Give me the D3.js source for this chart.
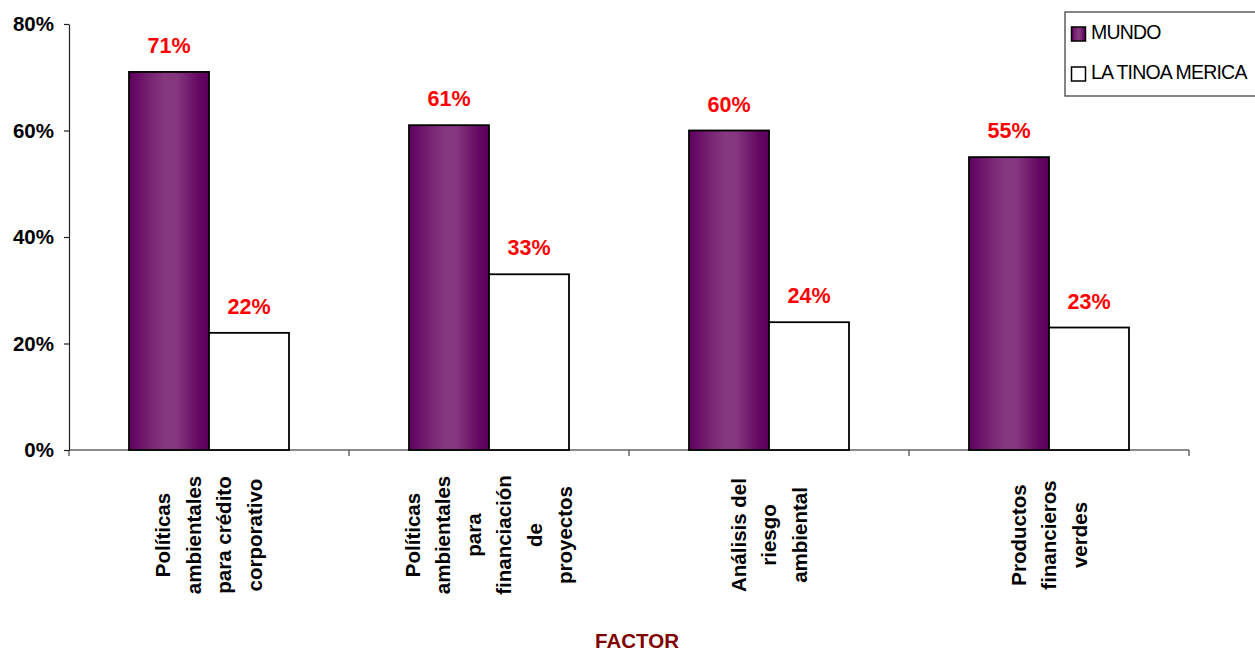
<!DOCTYPE html>
<html>
<head>
<meta charset="utf-8">
<script src="https://cdn.jsdelivr.net/npm/d3@7"></script>
<style>
  html, body { margin: 0; padding: 0; background: #fff; }
  svg { display: block; font-family: "Liberation Sans", Arial, sans-serif; }
</style>
</head>
<body>
<svg id="chart" width="1255" height="652"></svg>
<script>
// ---- data ----
const categories = [
  ["Políticas", "ambientales", "para crédito", "corporativo"],
  ["Políticas", "ambientales", "para", "financiación", "de", "proyectos"],
  ["Análisis del", "riesgo", "ambiental"],
  ["Productos", "financieros", "verdes"]
];
const categoryKeys = ["c1", "c2", "c3", "c4"];
const seriesNames = ["MUNDO", "LATINOAMERICA"];
const legendLabels = ["MUNDO", "LA TINOA MERICA"];
const mundo = [0.71, 0.61, 0.60, 0.55];
const latam = [0.22, 0.33, 0.24, 0.23];
const yTicks = [0, 0.2, 0.4, 0.6, 0.8];
const xTitle = "FACTOR";

// ---- layout ----
const svg = d3.select("#chart");
const mLeft = 69, mRight = 1189, mTop = 24, mBottom = 450;

const x0 = d3.scaleBand().domain(categoryKeys).range([mLeft, mRight]).paddingInner(0).paddingOuter(0);
const x1 = d3.scaleBand().domain(seriesNames).range([0, x0.bandwidth()]).paddingInner(0).paddingOuter(0.75);
const y = d3.scaleLinear().domain([0, 0.8]).range([mBottom, mTop]);

// gradient
const defs = svg.append("defs");
const grad = defs.append("linearGradient").attr("id", "purp")
  .attr("x1", "0%").attr("x2", "100%").attr("y1", "0%").attr("y2", "0%");
[[0, "#5c005c"], [0.08, "#660a64"], [0.25, "#762270"], [0.45, "#86397f"],
 [0.6, "#84367e"], [0.75, "#731d6f"], [0.88, "#640662"], [1, "#5c005c"]]
  .forEach(([o, c]) => grad.append("stop").attr("offset", o).attr("stop-color", c));

// x axis baseline
svg.append("line").attr("x1", mLeft).attr("x2", mRight).attr("y1", y(0)).attr("y2", y(0))
  .attr("stroke", "#666").attr("stroke-width", 1.5);
// category boundary ticks
const bounds = categoryKeys.map(k => x0(k)).concat([x0.range()[1]]);
svg.selectAll(".xt").data(bounds).enter().append("line")
  .attr("x1", d => d).attr("x2", d => d).attr("y1", y(0)).attr("y2", y(0) + 6)
  .attr("stroke", "#444").attr("stroke-width", 1.2);

// y axis
const yAxis = d3.axisLeft(y).tickValues(yTicks).tickFormat(d3.format(".0%")).tickSize(5).tickSizeOuter(0).tickPadding(10);
const yg = svg.append("g").attr("transform", `translate(${mLeft},0)`).call(yAxis);
yg.select(".domain").attr("stroke", "#222").attr("stroke-width", 1.2);
yg.selectAll(".tick line").attr("stroke", "#222").attr("stroke-width", 1.2);
yg.selectAll(".tick text").attr("font-size", 20.5).attr("font-weight", "bold")
  .attr("fill", "#000").attr("font-family", "Liberation Sans, Arial, sans-serif");

// bars
const rows = categoryKeys.map((k, i) => ({ key: k, vals: [mundo[i], latam[i]] }));
const groups = svg.selectAll(".grp").data(rows).enter().append("g")
  .attr("transform", d => `translate(${x0(d.key)},0)`);
groups.selectAll("rect").data(d => d.vals.map((v, j) => ({ s: seriesNames[j], v }))).enter().append("rect")
  .attr("x", d => x1(d.s)).attr("width", x1.bandwidth())
  .attr("y", d => y(d.v)).attr("height", d => y(0) - y(d.v))
  .attr("fill", d => d.s === "MUNDO" ? "url(#purp)" : "#fff")
  .attr("stroke", "#000").attr("stroke-width", 1.8);
groups.selectAll(".val").data(d => d.vals.map((v, j) => ({ s: seriesNames[j], v }))).enter().append("text")
  .attr("x", d => x1(d.s) + x1.bandwidth() / 2).attr("y", d => y(d.v) - 19)
  .attr("text-anchor", "middle").attr("font-size", 21.5).attr("font-weight", "bold")
  .attr("fill", "#ff0000").text(d => d3.format(".0%")(d.v));

// category labels (rotated, multi-line)
const lineGap = 30.5, labelCenterY = 535;
categories.forEach((lines, i) => {
  const cx = x0(categoryKeys[i]) + x0.bandwidth() / 2;
  const n = lines.length;
  lines.forEach((t, j) => {
    const lx = cx + (j - (n - 1) / 2) * lineGap + 7;
    svg.append("text")
      .attr("transform", `translate(${lx},${labelCenterY}) rotate(-90)`)
      .attr("text-anchor", "middle").attr("font-size", 20.5).attr("font-weight", "bold")
      .attr("fill", "#000").text(t);
  });
});

// x title
svg.append("text").attr("x", (mLeft + mRight) / 2 + 8).attr("y", 648)
  .attr("text-anchor", "middle").attr("font-size", 20.5).attr("font-weight", "bold")
  .attr("fill", "#800000").text(xTitle);

// legend
const lg = svg.append("g");
lg.append("rect").attr("x", 1065).attr("y", 12).attr("width", 200).attr("height", 84)
  .attr("fill", "#fff").attr("stroke", "#444").attr("stroke-width", 1.3);
seriesNames.forEach((s, i) => {
  const yy = 27 + i * 40;
  lg.append("rect").attr("x", 1071.5).attr("y", yy).attr("width", 14).attr("height", 14)
    .attr("fill", s === "MUNDO" ? "url(#purp)" : "#fff").attr("stroke", "#000").attr("stroke-width", 1.5);
  lg.append("text").attr("x", 1091).attr("y", yy + 12).attr("font-size", 19.5)
    .attr("letter-spacing", -0.8).attr("fill", "#000").text(legendLabels[i]);
});
</script>
</body>
</html>
